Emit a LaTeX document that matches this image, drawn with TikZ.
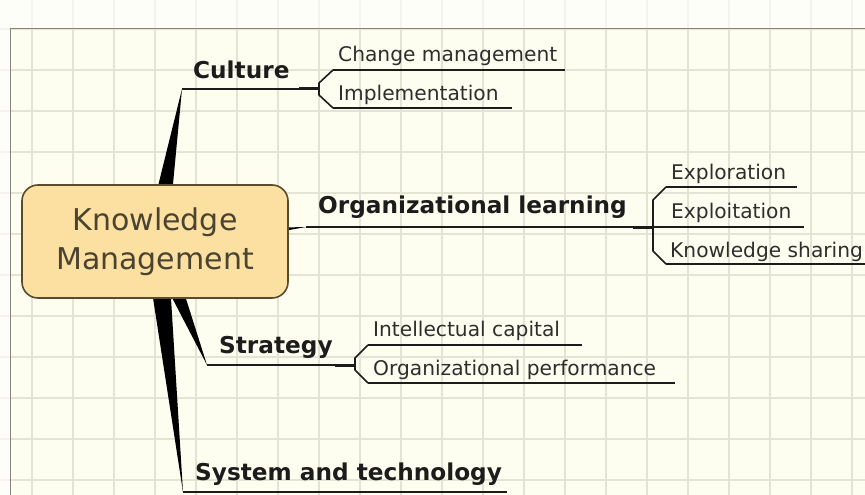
\documentclass[tikz,border=0pt]{standalone}
\usepackage{fontspec}
\setmainfont{DejaVu Sans}
\usetikzlibrary{calc}
\definecolor{canvas}{HTML}{FEFEF0}
\definecolor{gridline}{HTML}{E4E4D4}
\definecolor{pageedge}{HTML}{85857A}
\definecolor{rootfill}{HTML}{FCE0A2}
\definecolor{rootedge}{HTML}{5C4B2B}
\definecolor{roottext}{HTML}{4A4330}
\definecolor{ink}{HTML}{1C1C1C}
\definecolor{subink}{HTML}{2E2E2E}
\begin{document}
\begin{tikzpicture}[x=1pt,y=-1pt]
	\tikzstyle{rootnode}=[rounded corners=16pt,draw=rootedge,line width=1.6pt,fill=rootfill,minimum width=266pt,minimum height=113pt,inner sep=0pt,align=center,text=roottext,font=\fontsize{30}{39}\selectfont]
	\tikzstyle{branch}=[anchor=base west,inner sep=0pt,text=ink,font=\bfseries\fontsize{23.2}{28}\selectfont]
	\tikzstyle{subtopic}=[anchor=base west,inner sep=0pt,text=subink,font=\fontsize{20.2}{24}\selectfont]
	\tikzstyle{spoke}=[fill=black]
	\tikzstyle{stem}=[draw=ink,line width=2pt]
	\tikzstyle{twig}=[draw=ink,line width=1.6pt,line join=round]
	\tikzstyle{joint}=[draw=ink,line width=3pt]
	\useasboundingbox (0,0) rectangle (865,495);
	% paper
	\fill[canvas] (0,0) rectangle (865,495);
	\foreach \i in {0,...,20} \draw[gridline,line width=1.2pt] (32+41*\i,0) -- (32+41*\i,495);
	\foreach \i in {0,...,11} \draw[gridline,line width=1.2pt] (0,29+41*\i) -- (865,29+41*\i);
	\fill[white,opacity=.6] (0,0) rectangle (865,28) (0,28) rectangle (10,495);
	\draw[pageedge,line width=1.2pt] (865,28.5) -- (10.5,28.5) -- (10.5,495);
	% spokes
	\coordinate (hub) at (156,242);
	\coordinate (C-tip) at (182,89);
	\coordinate (O-tip) at (306,227);
	\coordinate (S-tip) at (207,365);
	\coordinate (T-tip) at (183,492);
	\foreach \tip in {C-tip,O-tip,S-tip,T-tip}
		\fill[spoke] ($(hub)!11.5pt!90:(\tip)$) -- ($(hub)!11.5pt!-90:(\tip)$) -- (\tip) -- cycle;
	\node[rootnode] (KM) at (155,241.5) {Knowledge\\Management};
	% Culture
	\node[branch] (culture) at (193,78) {Culture};
	\coordinate (C-fork) at (319,89);
	\coordinate (C-up) at (333,70);
	\coordinate (C-down) at (333,108);
	\draw[stem] (C-tip) -- (C-fork);
	\draw[joint] ($(C-fork)+(-20,0)$) -- (C-fork);
	\draw[twig] (C-up) -- ($(C-fork)+(0,-6)$) -- ($(C-fork)+(0,6)$) -- (C-down);
	\node[subtopic] (change) at (338,62) {Change management};
	\node[subtopic] (implement) at (338,100) {Implementation};
	\draw[twig] (C-up) -- (565,70);
	\draw[twig] (C-down) -- (512,108);
	% Organizational learning
	\node[branch] (learning) at (318,213) {Organizational learning};
	\coordinate (O-fork) at (653,227);
	\coordinate (O-up) at (666,187);
	\coordinate (O-down) at (666,264);
	\draw[stem] (O-tip) -- (O-fork);
	\draw[joint] ($(O-fork)+(-20,0)$) -- (O-fork);
	\draw[twig] (O-up) -- ($(O-fork)+(0,-27)$) -- ($(O-fork)+(0,24)$) -- (O-down);
	\node[subtopic] (explore) at (671,179) {Exploration};
	\node[subtopic] (exploit) at (671,218) {Exploitation};
	\node[subtopic] (sharing) at (670,257) {Knowledge sharing};
	\draw[twig] (O-up) -- (797,187);
	\draw[twig] (O-fork) -- (804,227);
	\draw[twig] (O-down) -- (865,264);
	% Strategy
	\node[branch] (strategy) at (219,353) {Strategy};
	\coordinate (S-fork) at (355,365);
	\coordinate (S-up) at (368,345);
	\coordinate (S-down) at (368,383);
	\draw[stem] (S-tip) -- (S-fork);
	\draw[joint] ($(S-fork)+(-20,0)$) -- (S-fork);
	\draw[twig] (S-up) -- ($(S-fork)+(0,-7)$) -- ($(S-fork)+(0,5)$) -- (S-down);
	\node[subtopic] (capital) at (373,336) {Intellectual capital};
	\node[subtopic] (perform) at (373,375) {Organizational performance};
	\draw[twig] (S-up) -- (582,345);
	\draw[twig] (S-down) -- (675,383);
	% System and technology
	\node[branch] (systech) at (195,480) {System and technology};
	\draw[stem] (T-tip) -- (507,492);
\end{tikzpicture}
\end{document}
